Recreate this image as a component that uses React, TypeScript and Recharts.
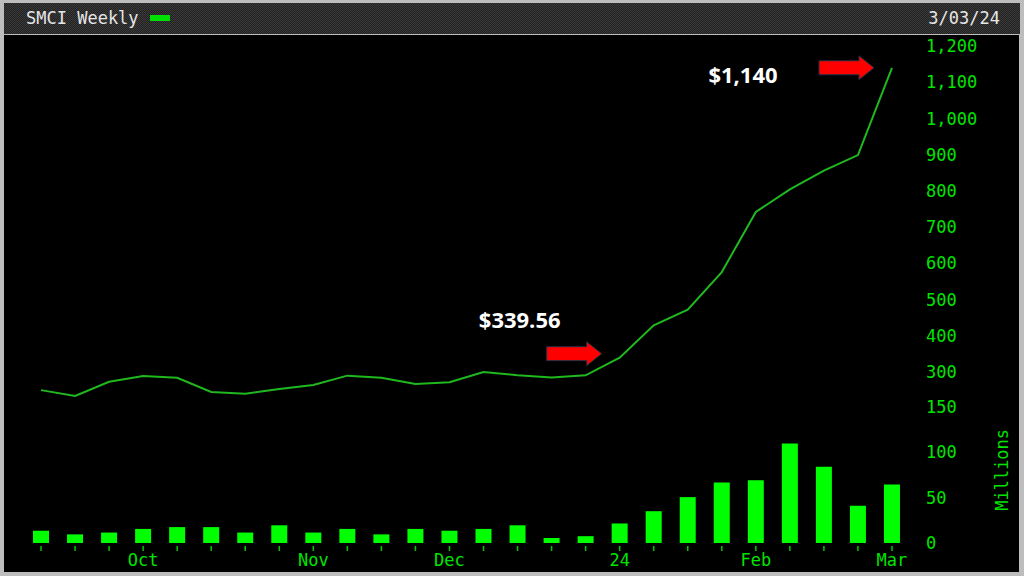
import { ComposedChart, Line, Bar, XAxis, YAxis, ReferenceDot } from 'recharts';

// weekly closes, SMCI
const weeks = [
    '9/11', '9/18', '9/25', '10/02', '10/09', '10/16', '10/23', '10/30', '11/06', '11/13',
    '11/20', '11/27', '12/04', '12/11', '12/18', '12/25', '1/01', '1/08', '1/15', '1/22',
    '1/29', '2/05', '2/12', '2/19', '2/26', '3/01',
];
const monthLabels = [
    '', '', '', 'Oct', '', '', '', '', 'Nov', '',
    '', '', 'Dec', '', '', '', '', '24', '', '',
    '', 'Feb', '', '', '', 'Mar',
];
const closes = [
    250, 234, 273, 289, 284, 245, 240, 253, 264, 290,
    284, 267, 272, 300, 291, 285, 291, 339.56, 429, 472,
    576, 742, 804, 856, 899, 1140,
];
const volumes = [
    13.5, 9.5, 11.5, 15.5, 17.5, 17.5, 11.5, 19.5, 11.5, 15.5,
    9.5, 15.5, 13.5, 15.5, 19.5, 5.5, 7.5, 21.5, 35, 50.5,
    66.5, 69, 109.5, 84, 41, 64.5,
];
const priceTicks = [300, 400, 500, 600, 700, 800, 900, 1000, 1100, 1200];
const volumeTicks = [0, 50, 100, 150];

const data = weeks.map((week, i) => ({ week, close: closes[i], volume: volumes[i] }));

const GREEN = '#00e400';
const MONO = '"DejaVu Sans Mono", "Liberation Mono", monospace';

const callouts = [
    { index: 17, text: '$339.56', textDx: -100, textDy: -37, arrowDy: -4 },
    { index: 25, text: '$1,140', textDx: -149, textDy: 8, arrowDy: 0 },
];

function Callout(props: any) {
    const { cx, cy, text, textDx, textDy, arrowDy } = props;
    const tipX = cx - 18;
    const y = cy + arrowDy;
    const pts = [
        [tipX, y],
        [tipX - 15, y - 12],
        [tipX - 15, y - 7],
        [tipX - 55, y - 7],
        [tipX - 55, y + 7],
        [tipX - 15, y + 7],
        [tipX - 15, y + 12],
    ].map((p) => p.join(',')).join(' ');
    return (
        <g>
            <polygon points={pts} fill="#ff0000" stroke="#1d3144" strokeWidth={1} />
            <text
                x={cx + textDx}
                y={cy + textDy}
                dy="0.35em"
                textAnchor="middle"
                fill="#ffffff"
                fontFamily='"Open Sans", "Liberation Sans", sans-serif'
                fontWeight={700}
                fontSize={22}
            >
                {text}
            </text>
        </g>
    );
}

function WeekTick(props: any) {
    const { x, y, payload, index } = props;
    const i = payload?.index ?? index;
    const label = monthLabels[i];
    return (
        <g>
            <line x1={x} x2={x} y1={y + 3} y2={y + 8} stroke="#00c800" strokeWidth={1.5} />
            {label ? (
                <text x={x} y={y + 17} dy="0.355em" textAnchor="middle" fill={GREEN} fontFamily={MONO} fontSize={17}>
                    {label}
                </text>
            ) : null}
        </g>
    );
}

export default function App() {
    return (
        <div style={{ position: 'relative', width: 1024, height: 576, background: '#bdbdbd', overflow: 'hidden' }}>
            <style>{'body{margin:0}'}</style>
            <div
                style={{
                    position: 'absolute', left: 4, top: 3, width: 1016, height: 31,
                    background: 'repeating-conic-gradient(#3a3a3a 0 25%, #222 0 50%) 0 0/2px 2px',
                    fontFamily: MONO, fontSize: 17, color: '#e6e6e6',
                }}
            >
                <span style={{ position: 'absolute', left: 22, top: 5 }}>SMCI Weekly</span>
                <span style={{ position: 'absolute', left: 146, top: 12, width: 20, height: 6, background: '#00e000' }} />
                <span style={{ position: 'absolute', right: 20, top: 5 }}>3/03/24</span>
            </div>
            <div style={{ position: 'absolute', left: 4, top: 35, width: 1015, height: 537, background: '#000' }} />

            <div style={{ position: 'absolute', left: 0, top: 0 }}>
                <ComposedChart width={1024} height={410} data={data} margin={{ top: 38.8, right: 0, bottom: 9, left: 24 }}>
                    <XAxis dataKey="week" scale="band" hide />
                    <YAxis
                        orientation="right"
                        width={115}
                        domain={[220, 1220]}
                        ticks={priceTicks}
                        allowDataOverflow
                        axisLine={false}
                        tickLine={false}
                        tickMargin={11}
                        tickFormatter={(v) => v.toLocaleString('en-US')}
                        tick={{ fill: GREEN, fontFamily: MONO, fontSize: 17, textAnchor: 'start' }}
                    />
                    <Line
                        dataKey="close"
                        type="linear"
                        stroke="#1fb81f"
                        strokeWidth={2}
                        dot={false}
                        isAnimationActive={false}
                    />
                    {callouts.map((c) => (
                        <ReferenceDot
                            key={c.index}
                            x={weeks[c.index]}
                            y={closes[c.index]}
                            shape={(p: any) => <Callout {...p} {...c} />}
                        />
                    ))}
                </ComposedChart>
            </div>

            <div style={{ position: 'absolute', left: 0, top: 0 }}>
                <ComposedChart width={1024} height={576} data={data} margin={{ top: 406.7, right: 0, bottom: 0, left: 24 }}>
                    <XAxis
                        dataKey="week"
                        scale="band"
                        interval={0}
                        height={33}
                        axisLine={false}
                        tickLine={false}
                        tickSize={0}
                        tickMargin={0}
                        tick={<WeekTick />}
                    />
                    <YAxis
                        orientation="right"
                        width={115}
                        domain={[0, 150]}
                        ticks={volumeTicks}
                        axisLine={false}
                        tickLine={false}
                        tickMargin={11}
                        tick={{ fill: GREEN, fontFamily: MONO, fontSize: 17, textAnchor: 'start' }}
                        label={{
                            value: 'Millions', angle: -90, position: 'center', dx: 35, dy: -5,
                            fill: GREEN, fontFamily: MONO, fontSize: 17,
                        }}
                    />
                    <Bar dataKey="volume" fill="#00ff00" barSize={16} isAnimationActive={false} />
                </ComposedChart>
            </div>
        </div>
    );
}
